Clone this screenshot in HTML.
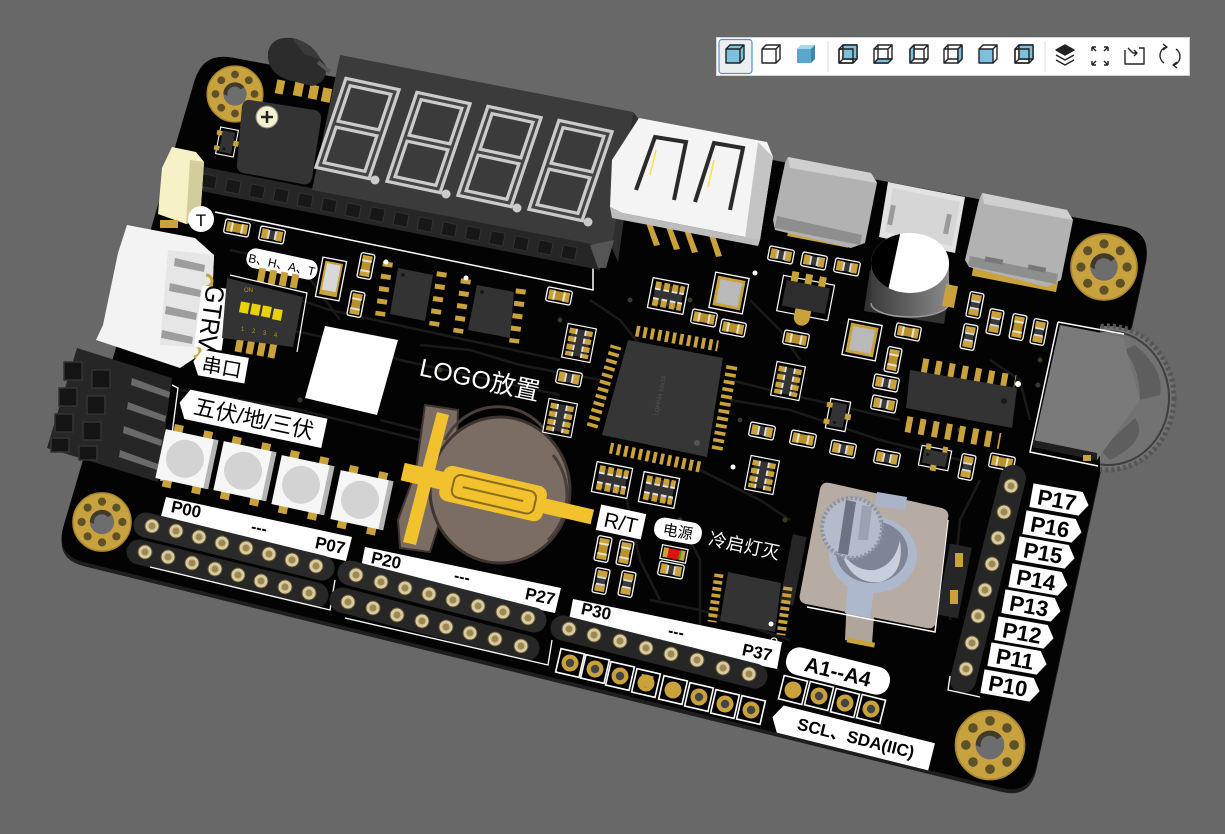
<!DOCTYPE html>
<html><head><meta charset="utf-8"><style>
html,body{margin:0;padding:0;background:#686868;}
svg{display:block;}
text{font-family:"Liberation Sans","Noto Sans CJK SC",sans-serif;}
</style></head><body>
<svg width="1225" height="834" viewBox="0 0 1225 834" xmlns="http://www.w3.org/2000/svg">
<defs>
  <g id="hole">
    <circle r="30" fill="#c8a23f"/>
    <circle r="30" fill="none" stroke="#a88630" stroke-width="1.5"/>
    <circle cx="0" cy="-21" r="4.2" fill="#5e5128"/>
    <circle cx="14.8" cy="-14.8" r="4.2" fill="#5e5128"/>
    <circle cx="21" cy="0" r="4.2" fill="#5e5128"/>
    <circle cx="14.8" cy="14.8" r="4.2" fill="#5e5128"/>
    <circle cx="0" cy="21" r="4.2" fill="#5e5128"/>
    <circle cx="-14.8" cy="14.8" r="4.2" fill="#5e5128"/>
    <circle cx="-21" cy="0" r="4.2" fill="#5e5128"/>
    <circle cx="-14.8" cy="-14.8" r="4.2" fill="#5e5128"/>
    <circle r="12.5" fill="#6d6d6d"/>
    <path d="M-12.5,0 A12.5,12.5 0 0 1 10,-7.5 L6,-5 A8,8 0 0 0 -8,2 Z" fill="#3f3a2a"/>
  </g>
  <g id="R">
    <rect x="-12.5" y="-7" width="25" height="14" rx="2" fill="#000" stroke="#fff" stroke-width="1.3"/>
    <rect x="-10.5" y="-5" width="6.5" height="10" fill="#c9a23c"/>
    <rect x="4" y="-5" width="6.5" height="10" fill="#c9a23c"/>
    <rect x="-4.5" y="-4.5" width="9" height="9" fill="#3a3a3a"/>
    <rect x="-4.5" y="-4.5" width="2" height="9" fill="#ddd"/>
    <rect x="2.5" y="-4.5" width="2" height="9" fill="#ddd"/>
  </g>
  <g id="C">
    <rect x="-12.5" y="-7" width="25" height="14" rx="2" fill="#000" stroke="#fff" stroke-width="1.3"/>
    <rect x="-10.5" y="-5" width="6.5" height="10" fill="#c9a23c"/>
    <rect x="4" y="-5" width="6.5" height="10" fill="#c9a23c"/>
    <rect x="-5" y="-4.5" width="10" height="9" fill="#b8912d"/>
    <rect x="-6" y="-4.5" width="2" height="9" fill="#e8e4d0"/>
    <rect x="4" y="-4.5" width="2" height="9" fill="#e8e4d0"/>
  </g>
  <g id="RA">
    <rect x="-19" y="-16" width="38" height="32" fill="#000" stroke="#fff" stroke-width="1.3"/>
    <rect x="-15" y="-11" width="30" height="22" fill="#333"/>
    <g fill="#c9a23c">
      <rect x="-15" y="-13" width="6" height="8"/><rect x="-6" y="-13" width="6" height="8"/><rect x="3" y="-13" width="6" height="8"/><rect x="11" y="-13" width="5" height="8"/>
      <rect x="-15" y="5" width="6" height="8"/><rect x="-6" y="5" width="6" height="8"/><rect x="3" y="5" width="6" height="8"/><rect x="11" y="5" width="5" height="8"/>
    </g>
    <g fill="#e4e4e4">
      <rect x="-15" y="-6" width="6" height="2"/><rect x="-6" y="-6" width="6" height="2"/><rect x="3" y="-6" width="6" height="2"/><rect x="11" y="-6" width="5" height="2"/>
      <rect x="-15" y="4" width="6" height="2"/><rect x="-6" y="4" width="6" height="2"/><rect x="3" y="4" width="6" height="2"/><rect x="11" y="4" width="5" height="2"/>
    </g>
  </g>
  <g id="SOT">
    <rect x="-10" y="-15" width="20" height="30" fill="#000" stroke="#fff" stroke-width="1.2"/>
    <rect x="-13" y="-11" width="6" height="5" fill="#c9a23c"/><rect x="-13" y="6" width="6" height="5" fill="#c9a23c"/><rect x="7" y="-3" width="6" height="6" fill="#c9a23c"/>
    <rect x="-7" y="-12" width="14" height="24" fill="#333"/>
    <circle cx="-2" cy="8" r="1.5" fill="#111"/>
  </g>
  <g id="XT">
    <rect x="-17" y="-18" width="34" height="36" fill="#000" stroke="#fff" stroke-width="1.3"/>
    <rect x="-14" y="-15" width="28" height="30" fill="#c9a23c"/>
    <rect x="-11" y="-12" width="22" height="24" fill="#b9b9b9"/>
  </g>
  <g id="PIN">
    <circle r="7" fill="#d9caa0" stroke="#5f5430" stroke-width="1"/>
    <circle r="3.6" fill="#9c8a55"/>
  </g>
  <g id="SQP">
    <rect x="-12" y="-12" width="24" height="24" fill="#000" stroke="#fff" stroke-width="1.6"/>
    <circle r="8.5" fill="#c9a23c"/>
    <circle r="4.2" fill="#444"/>
  </g>
  <clipPath id="wclip"><rect x="1100" y="300" width="120" height="200"/></clipPath>
  <clipPath id="capTop"><ellipse cx="910" cy="263" rx="39" ry="30"/></clipPath>
  <linearGradient id="capG" x1="0" x2="1" y1="0" y2="0">
    <stop offset="0" stop-color="#3c3c3c"/><stop offset="0.6" stop-color="#6a6a6a"/><stop offset="1" stop-color="#8a8a8a"/>
  </linearGradient>
</defs>

<rect x="0" y="0" width="1225" height="834" fill="#686868"/>

<!-- Toolbar -->
<rect x="716.5" y="37.5" width="473" height="38" fill="#fff" stroke="#d4d4d4"/>
<rect x="719" y="39.5" width="33" height="34" rx="3" fill="#eceef1" stroke="#4a93e0" stroke-width="1.2"/>
<line x1="828" y1="41" x2="828" y2="72" stroke="#ddd"/>
<line x1="1045" y1="41" x2="1045" y2="72" stroke="#ddd"/>
<g stroke="#222" stroke-width="1.4" fill="none" stroke-linejoin="round">
  <path d="M726,49 L730,45 L744,45 L744,59 L740,63 L726,63 Z" fill="#7cc0de"/>
  <path d="M726,49 L740,49 L740,63 M740,49 L744,45"/>
  <path d="M762,49 L766,45 L780,45 L780,59 L776,63 L762,63 Z" fill="#fff"/>
  <path d="M762,49 L776,49 L776,63 M776,49 L780,45"/>
  <path d="M797,49 L801,45 L815,45 L815,59 L811,63 L797,63 Z" fill="#5aa7cc" stroke="none"/>
  <path d="M797,49 L801,45 L815,45 L811,49 Z" fill="#a9d6ea" stroke="none"/>
  <path d="M811,49 L815,45 L815,59 L811,63 Z" fill="#3f86ad" stroke="none"/>
  <g>
    <path d="M839,49 L853,49 L853,63 L839,63 Z M843,45 L857,45 L857,59 L843,59 Z M839,49 L843,45 M853,49 L857,45 M853,63 L857,59 M839,63 L843,59"/>
    <path d="M843,45 L857,45 L857,59 L843,59 Z" fill="#7cc0de"/>
    <path d="M839,49 L853,49 L853,63 L839,63 Z"/>
  </g>
  <g>
    <path d="M874,49 L888,49 L888,63 L874,63 Z M878,45 L892,45 L892,59 L878,59 Z M874,49 L878,45 M888,49 L892,45 M888,63 L892,59 M874,63 L878,59"/>
    <path d="M874,63 L878,59 L892,59 L888,63 Z" fill="#7cc0de"/>
  </g>
  <g>
    <path d="M910,49 L924,49 L924,63 L910,63 Z M914,45 L928,45 L928,59 L914,59 Z M910,49 L914,45 M924,49 L928,45 M924,63 L928,59 M910,63 L914,59"/>
    <path d="M910,49 L914,45 L914,59 L910,63 Z" fill="#7cc0de"/>
  </g>
  <g>
    <path d="M944,49 L958,49 L958,63 L944,63 Z M948,45 L962,45 L962,59 L948,59 Z M944,49 L948,45 M958,49 L962,45 M958,63 L962,59 M944,63 L948,59"/>
    <path d="M958,49 L962,45 L962,59 L958,63 Z" fill="#7cc0de"/>
  </g>
  <g>
    <path d="M979,49 L993,49 L993,63 L979,63 Z" fill="#7cc0de"/>
    <path d="M979,49 L983,45 L997,45 L997,59 L993,63 M993,49 L997,45"/>
  </g>
  <g>
    <path d="M1015,49 L1029,49 L1029,63 L1015,63 Z M1019,45 L1033,45 L1033,59 L1019,59 Z M1015,49 L1019,45 M1029,49 L1033,45 M1029,63 L1033,59 M1015,63 L1019,59"/>
    <path d="M1019,45 L1033,45 L1033,59 L1019,59 Z" fill="#7cc0de"/>
    <path d="M1015,49 L1029,49 L1029,63 L1015,63 Z"/>
  </g>
  <path d="M1056,50 L1065,45 L1074,50 L1065,55 Z" fill="#222"/>
  <path d="M1056,55 L1065,60 L1074,55"/>
  <path d="M1056,60 L1065,65 L1074,60"/>
  <path d="M1092,47 L1092,51 M1092,47 L1096,47 M1092,47 L1096,51 M1108,47 L1104,47 M1108,47 L1108,51 M1108,47 L1104,51 M1092,65 L1092,61 M1092,65 L1096,65 M1092,65 L1096,61 M1108,65 L1104,65 M1108,65 L1108,61 M1108,65 L1104,61"/>
  <path d="M1125,50 L1125,64 L1144,64 L1144,48 L1139,48"/>
  <path d="M1128,48 L1133,53 L1137,53 M1134,50 L1137,53 L1134,56"/>
  <path d="M1166,47 A9,9 0 0 0 1164,63 M1174,65 A9,9 0 0 0 1176,49"/>
  <path d="M1163,44 L1167,47 L1163,50 M1177,68 L1173,65 L1177,62"/>
</g>

<!-- Board -->
<path d="M232.5,57.6 L1122.5,226.4 Q1152,232 1145.6,261.3 L1036.4,765.7 Q1030,795 1000.9,787.8 L84.1,562.2 Q55,555 63.5,526.2 L194.5,80.8 Q203,52 232.5,57.6 Z" transform="translate(0,4)" fill="#1e1e1e"/>
<path d="M232.5,57.6 L1122.5,226.4 Q1152,232 1145.6,261.3 L1036.4,765.7 Q1030,795 1000.9,787.8 L84.1,562.2 Q55,555 63.5,526.2 L194.5,80.8 Q203,52 232.5,57.6 Z" fill="#030303"/>

<!-- traces -->
<g stroke="#1a1a1a" stroke-width="2.5" fill="none">
  <polyline points="300,300 330,310 420,330 560,360"/>
  <polyline points="290,330 360,345 400,360 560,395"/>
  <polyline points="180,390 300,410 420,440"/>
  <polyline points="600,380 520,365 470,350 420,345"/>
  <polyline points="730,380 770,390 900,420"/>
  <polyline points="730,400 790,410 880,440 960,460"/>
  <polyline points="700,470 760,500 790,520"/>
  <polyline points="680,520 700,560 700,640"/>
  <polyline points="650,600 700,610 790,640"/>
  <polyline points="620,470 640,560 660,600"/>
  <polyline points="980,480 960,520 950,620"/>
  <polyline points="750,300 780,330 800,360"/>
  <polyline points="230,250 300,265 340,320"/>
  <polyline points="440,450 420,430 380,420"/>
  <polyline points="590,300 620,320 640,345"/>
  <polyline points="990,360 1020,380 1030,420"/>
</g>
<g fill="#3a3a2a">
  <circle cx="440" cy="370" r="2.5"/><circle cx="560" cy="320" r="2.5"/><circle cx="740" cy="420" r="2.5"/><circle cx="690" cy="300" r="2.5"/>
  <circle cx="960" cy="430" r="2.5"/><circle cx="1040" cy="360" r="2.5"/><circle cx="1038" cy="385" r="2.5"/><circle cx="300" cy="400" r="2.5"/>
  <circle cx="785" cy="520" r="2.5"/><circle cx="680" cy="520" r="2.5"/><circle cx="630" cy="300" r="2.5"/><circle cx="520" cy="540" r="2.5"/>
</g>

<!-- Mounting holes -->
<use href="#hole" transform="translate(235,94) scale(0.93)"/>
<use href="#hole" transform="translate(1104,267) scale(1.1)"/>
<use href="#hole" transform="translate(102,522) scale(0.97)"/>
<use href="#hole" transform="translate(990,745) scale(1.15)"/>

<polyline points="215,212 593,290 593,262" fill="none" stroke="#fff" stroke-width="1.5"/>

<!-- transistor TO-92 -->
<g>
  <rect x="294" y="82" width="9" height="14" fill="#c9a23c" transform="rotate(11 298 89)"/>
  <rect x="309" y="85" width="9" height="14" fill="#c9a23c" transform="rotate(11 313 92)"/>
  <rect x="322" y="88" width="9" height="14" fill="#c9a23c" transform="rotate(11 326 95)"/>
  <rect x="276" y="80" width="8" height="14" fill="#c9a23c" transform="rotate(11 280 87)"/>
  <path d="M268,52 Q272,36 292,38 Q310,42 318,55 L326,66 Q328,82 312,86 L288,80 Q266,72 268,52 Z" fill="#2c2c2c"/>
  <path d="M292,38 Q310,42 318,55 L326,66 Q322,58 305,55 Z" fill="#3a3a3a"/>
  <line x1="318" y1="62" x2="330" y2="72" stroke="#555" stroke-width="4"/>
</g>

<!-- 7-seg display -->
<polygon points="194,165 606,246 600,270 196,190" fill="#262626"/>
<g fill="#171717" stroke="#333" stroke-width="1">
  <rect x="202" y="175" width="14" height="13" transform="rotate(11 209 182)"/>
  <rect x="226" y="180" width="14" height="13" transform="rotate(11 233 187)"/>
  <rect x="250" y="185" width="14" height="13" transform="rotate(11 257 192)"/>
  <rect x="274" y="189" width="14" height="13" transform="rotate(11 281 196)"/>
  <rect x="298" y="194" width="14" height="13" transform="rotate(11 305 201)"/>
  <rect x="322" y="199" width="14" height="13" transform="rotate(11 329 206)"/>
  <rect x="346" y="204" width="14" height="13" transform="rotate(11 353 211)"/>
  <rect x="370" y="208" width="14" height="13" transform="rotate(11 377 215)"/>
  <rect x="394" y="213" width="14" height="13" transform="rotate(11 401 220)"/>
  <rect x="418" y="218" width="14" height="13" transform="rotate(11 425 225)"/>
  <rect x="442" y="223" width="14" height="13" transform="rotate(11 449 230)"/>
  <rect x="466" y="227" width="14" height="13" transform="rotate(11 473 234)"/>
  <rect x="490" y="232" width="14" height="13" transform="rotate(11 497 239)"/>
  <rect x="514" y="237" width="14" height="13" transform="rotate(11 521 244)"/>
  <rect x="538" y="241" width="14" height="13" transform="rotate(11 545 248)"/>
  <rect x="562" y="246" width="14" height="13" transform="rotate(11 569 253)"/>
</g>
<polygon points="340,55 633,112 612,248 312,190" fill="#3b3b3b"/>
<polygon points="633,112 638,118 618,262 612,248" fill="#2e2e2e"/>
<polygon points="590,245 614,240 606,268 598,268" fill="#555"/>
<g fill="none" stroke-linejoin="miter">
  <g stroke="#cbcbcb" stroke-width="9.5">
    <path d="M348,82 L395,92 L367,175 L320,165 Z M334,123.5 L381,133.5"/>
    <path d="M419,96 L466,106 L438,189 L391,179 Z M405,137.5 L452,147.5"/>
    <path d="M490,110 L537,120 L509,203 L462,193 Z M476,151.5 L523,161.5"/>
    <path d="M561,124 L608,134 L580,217 L533,207 Z M547,165.5 L594,175.5"/>
  </g>
  <g stroke="#454545" stroke-width="3">
    <path d="M348,82 L395,92 L367,175 L320,165 Z M334,123.5 L381,133.5"/>
    <path d="M419,96 L466,106 L438,189 L391,179 Z M405,137.5 L452,147.5"/>
    <path d="M490,110 L537,120 L509,203 L462,193 Z M476,151.5 L523,161.5"/>
    <path d="M561,124 L608,134 L580,217 L533,207 Z M547,165.5 L594,175.5"/>
  </g>
</g>
<g fill="#cbcbcb">
  <circle cx="375" cy="180" r="4.5"/><circle cx="446" cy="194" r="4.5"/><circle cx="517" cy="208" r="4.5"/><circle cx="588" cy="222" r="4.5"/>
</g>

<!-- buzzer -->
<path d="M250,100 L315,110 Q322,112 321,120 L312,178 Q310,186 302,184 L243,173 Q236,171 237,164 L242,106 Q244,99 250,100 Z" fill="#343434"/>
<circle cx="267" cy="117" r="11" fill="#f3efcf" stroke="#888" stroke-width="1"/>
<path d="M261,117 L273,117 M267,111 L267,123" stroke="#222" stroke-width="2.5"/>

<use href="#SOT" transform="translate(227,142) rotate(11) scale(0.9)"/>

<!-- cream connector -->
<polygon points="172,147 196,152 204,162 200,220 186,224 158,214 162,168" fill="#f6f2c6"/>
<polygon points="190,160 204,162 200,220 186,224" fill="#d2cd9a"/>
<rect x="160" y="220" width="18" height="8" fill="#c9a23c"/>
<circle cx="201" cy="219" r="13" fill="#fff"/>
<text x="201" y="226" font-size="17" text-anchor="middle" fill="#000">T</text>

<use href="#C" transform="translate(237,228) rotate(11)"/>
<use href="#R" transform="translate(272,235) rotate(11)"/>

<!-- white 4-pin connector -->
<polygon points="127,225 195,238 214,255 210,348 180,368 96,340 103,325 118,253" fill="#f3f3f3"/>
<polygon points="168,250 214,255 210,348 160,345" fill="#e6e6e6"/>
<g fill="#9d9d9d">
  <polygon points="175,258 205,265 204,272 174,266"/>
  <polygon points="170,283 201,290 200,297 169,291"/>
  <polygon points="166,306 197,313 196,320 165,314"/>
  <polygon points="162,330 193,337 192,344 161,338"/>
</g>
<g fill="none" stroke="#c9a23c" stroke-width="3">
  <path d="M206,275 a6,6 0 0 1 0,12"/><path d="M202,299 a6,6 0 0 1 0,12"/><path d="M198,322 a6,6 0 0 1 0,12"/><path d="M194,345 a6,6 0 0 1 0,12"/>
</g>

<!-- black 2x4 header left -->
<polygon points="77,348 172,378 158,482 47,448" fill="#262626"/>
<g fill="#141414" stroke="#333" stroke-width="1.5">
  <rect x="64" y="362" width="18" height="18"/><rect x="92" y="370" width="18" height="18"/>
  <rect x="59" y="388" width="18" height="18"/><rect x="87" y="396" width="18" height="18"/>
  <rect x="55" y="414" width="18" height="18"/><rect x="83" y="422" width="18" height="18"/>
  <rect x="51" y="438" width="18" height="14"/><rect x="79" y="446" width="18" height="14"/>
</g>
<g fill="#6a6a6a">
  <polygon points="132,378 170,392 169,398 131,385"/>
  <polygon points="128,402 166,416 165,422 127,409"/>
  <polygon points="124,426 162,440 161,446 123,433"/>
  <polygon points="120,450 158,464 157,470 119,457"/>
</g>
<polyline points="172,385 178,388 166,480 160,480" fill="none" stroke="#fff" stroke-width="1.3"/>

<!-- labels left -->
<g transform="translate(212,318) rotate(98)">
  <rect x="-31" y="-14" width="62" height="28" fill="#fff"/>
  <text x="0" y="9" font-size="24" text-anchor="middle" fill="#000" transform="scale(1,1.1)">GTRV</text>
</g>
<g transform="translate(220,366) rotate(10)">
  <path d="M-20,-13 L27,-13 L27,13 L-20,13 L-27,0 Z" fill="#fff"/>
  <text x="2" y="8" font-size="20" text-anchor="middle" fill="#000">串口</text>
</g>
<g transform="translate(282,264) rotate(12)">
  <rect x="-36" y="-10" width="72" height="20" rx="9" fill="#fff"/>
  <text x="0" y="5" font-size="12" text-anchor="middle" fill="#000">B、H、A、T</text>
</g>

<!-- DIP switch -->
<g fill="#c9a23c">
  <rect x="258" y="268" width="7" height="14" transform="rotate(11 261 275)"/>
  <rect x="269" y="270" width="7" height="14" transform="rotate(11 272 277)"/>
  <rect x="280" y="272" width="7" height="14" transform="rotate(11 283 279)"/>
  <rect x="291" y="274" width="7" height="14" transform="rotate(11 294 281)"/>
  <rect x="236" y="336" width="7" height="16" transform="rotate(11 239 344)"/>
  <rect x="247" y="338" width="7" height="16" transform="rotate(11 250 346)"/>
  <rect x="258" y="340" width="7" height="16" transform="rotate(11 261 348)"/>
  <rect x="269" y="342" width="7" height="16" transform="rotate(11 272 350)"/>
</g>
<polygon points="227,278 303,297 293,347 222,338" fill="#333"/>
<polyline points="230,275 307,293 297,352" fill="none" stroke="#fff" stroke-width="1.2"/>
<g fill="#e8d20a">
  <rect x="240" y="302" width="9" height="11" transform="rotate(11 244 307)"/>
  <rect x="251" y="304" width="9" height="11" transform="rotate(11 255 309)"/>
  <rect x="262" y="306" width="9" height="11" transform="rotate(11 266 311)"/>
  <rect x="273" y="309" width="9" height="11" transform="rotate(11 277 314)"/>
</g>
<g fill="#b39a10" font-size="6">
  <text x="241" y="331">1</text><text x="252" y="333">2</text><text x="263" y="335">3</text><text x="274" y="337">4</text>
  <text x="244" y="292">ON</text>
</g>

<g transform="translate(331,279) rotate(11)">
  <rect x="-12" y="-20" width="24" height="40" fill="#000" stroke="#fff" stroke-width="1.3"/>
  <rect x="-9" y="-17" width="18" height="34" fill="#c9a23c"/>
  <rect x="-7" y="-15" width="14" height="27" fill="#d8d8d8"/>
</g>
<use href="#C" transform="translate(366,266) rotate(101)"/>
<use href="#C" transform="translate(356,304) rotate(101)"/>

<!-- SOIC-8 chips -->
<g stroke="#c9a23c" stroke-width="10" stroke-dasharray="5 7.5" fill="none">
  <line x1="388" y1="262" x2="380" y2="316"/>
  <line x1="442" y1="272" x2="434" y2="326"/>
  <line x1="466" y1="279" x2="458" y2="333"/>
  <line x1="521" y1="289" x2="514" y2="343"/>
</g>
<polygon points="398,268 433,275 425,321 390,314" fill="#333"/>
<polygon points="477,285 514,292 510,338 468,330" fill="#333"/>
<circle cx="386" cy="262" r="2.5" fill="#fff"/><circle cx="466" cy="278" r="2.5" fill="#fff"/>
<circle cx="403" cy="275" r="2" fill="#1a1a1a"/><circle cx="482" cy="292" r="2" fill="#1a1a1a"/>

<use href="#C" transform="translate(559,296) rotate(11)"/>

<!-- LOGO -->
<polygon points="325,326 398,340 377,415 305,398" fill="#fff"/>
<text transform="translate(478,388) rotate(12)" font-size="25" text-anchor="middle" fill="#fff">LOGO放置</text>

<g transform="translate(252,418) rotate(12)">
  <path d="M-66,-15 L74,-15 L74,15 L-66,15 L-74,0 Z" fill="#fff"/>
  <text x="2" y="8" font-size="22" text-anchor="middle" fill="#000">五伏/地/三伏</text>
</g>

<!-- buttons -->
<g>
  <g transform="translate(186,459) rotate(12)">
    <rect x="-18" y="-32" width="9" height="9" fill="#c9a23c"/><rect x="12" y="-32" width="9" height="9" fill="#c9a23c"/>
    <rect x="-18" y="23" width="9" height="9" fill="#c9a23c"/><rect x="12" y="23" width="9" height="9" fill="#c9a23c"/>
    <rect x="-26" y="-25" width="53" height="50" fill="#f6f6f6"/>
    <rect x="23" y="-25" width="5" height="50" fill="#b5b5b5"/>
    <circle cx="-1" cy="0" r="19" fill="#d3d3d3"/>
  </g>
  <g transform="translate(244,471) rotate(12)">
    <rect x="-18" y="-32" width="9" height="9" fill="#c9a23c"/><rect x="12" y="-32" width="9" height="9" fill="#c9a23c"/>
    <rect x="-18" y="23" width="9" height="9" fill="#c9a23c"/><rect x="12" y="23" width="9" height="9" fill="#c9a23c"/>
    <rect x="-26" y="-25" width="53" height="50" fill="#f6f6f6"/>
    <rect x="23" y="-25" width="5" height="50" fill="#b5b5b5"/>
    <circle cx="-1" cy="0" r="19" fill="#d3d3d3"/>
  </g>
  <g transform="translate(302,485) rotate(12)">
    <rect x="-18" y="-32" width="9" height="9" fill="#c9a23c"/><rect x="12" y="-32" width="9" height="9" fill="#c9a23c"/>
    <rect x="-18" y="23" width="9" height="9" fill="#c9a23c"/><rect x="12" y="23" width="9" height="9" fill="#c9a23c"/>
    <rect x="-26" y="-25" width="53" height="50" fill="#f6f6f6"/>
    <rect x="23" y="-25" width="5" height="50" fill="#b5b5b5"/>
    <circle cx="-1" cy="0" r="19" fill="#d3d3d3"/>
  </g>
  <g transform="translate(361,500) rotate(12)">
    <rect x="-18" y="-32" width="9" height="9" fill="#c9a23c"/><rect x="12" y="-32" width="9" height="9" fill="#c9a23c"/>
    <rect x="-18" y="23" width="9" height="9" fill="#c9a23c"/><rect x="12" y="23" width="9" height="9" fill="#c9a23c"/>
    <rect x="-26" y="-25" width="53" height="50" fill="#f6f6f6"/>
    <rect x="23" y="-25" width="5" height="50" fill="#b5b5b5"/>
    <circle cx="-1" cy="0" r="19" fill="#d3d3d3"/>
  </g>
</g>

<!-- coin cell holder -->
<polygon points="425,405 458,410 456,468 430,552 400,548 398,520 416,470" fill="#7b6c64" stroke="#3f3530" stroke-width="2"/>
<ellipse cx="500" cy="490" rx="70" ry="73" fill="#7b6c64" stroke="#3d3430" stroke-width="3"/>
<path d="M445,440 A60,62 0 0 1 545,430" fill="none" stroke="#4a3f3a" stroke-width="3"/>
<path d="M553,455 A60,62 0 0 1 548,540" fill="none" stroke="#4a3f3a" stroke-width="3"/>
<polygon points="437,412 449,415 416,545 403,542" fill="#f2c12e"/>
<g transform="rotate(13 495 494)">
  <rect x="400" y="484" width="45" height="18" fill="#f2c12e"/>
  <rect x="538" y="487" width="57" height="15" fill="#f2c12e"/>
  <rect x="440" y="476" width="106" height="36" rx="9" fill="#f2c12e"/>
  <rect x="452" y="483" width="84" height="23" rx="7" fill="none" stroke="#8a6a1e" stroke-width="2"/>
  <line x1="462" y1="494.5" x2="524" y2="494.5" stroke="#8a6a1e" stroke-width="2"/>
</g>

<!-- MCU -->
<g stroke="#c9a23c" stroke-width="11" stroke-dasharray="3.6 3.8" fill="none">
  <line x1="636" y1="331" x2="718" y2="346"/>
  <line x1="732" y1="366" x2="717" y2="450"/>
  <line x1="700" y1="467" x2="610" y2="448"/>
  <line x1="592" y1="427" x2="616" y2="346"/>
</g>
<polygon points="628,340 723,358 707,457 602,435" fill="#363636"/>
<circle cx="697" cy="443" r="3" fill="#555"/>
<circle cx="733" cy="467" r="2.5" fill="#fff"/>
<text transform="translate(662,396) rotate(-79)" font-size="6" fill="#555" text-anchor="middle">LQFP44 10x10</text>

<use href="#RA" transform="translate(579,343) rotate(101) scale(0.9)"/>
<use href="#R" transform="translate(569,378) rotate(11)"/>
<use href="#RA" transform="translate(560,418) rotate(101) scale(0.9)"/>
<use href="#RA" transform="translate(612,480) rotate(11) scale(0.95)"/>
<use href="#RA" transform="translate(659,490) rotate(11) scale(0.95)"/>
<use href="#RA" transform="translate(668,296) rotate(11) scale(0.95)"/>
<use href="#XT" transform="translate(729,293) rotate(11)"/>
<circle cx="755" cy="273" r="2.5" fill="#fff"/>
<use href="#C" transform="translate(704,318) rotate(11)"/>
<use href="#C" transform="translate(733,328) rotate(11)"/>
<use href="#R" transform="translate(781,255) rotate(11)"/>
<use href="#R" transform="translate(814,261) rotate(11)"/>
<use href="#R" transform="translate(847,267) rotate(11)"/>
<g transform="translate(806,296) rotate(11)">
  <rect x="-26" y="-16" width="52" height="36" fill="#000" stroke="#fff" stroke-width="1.2"/>
  <rect x="-18" y="-22" width="7" height="10" fill="#c9a23c"/><rect x="-4" y="-22" width="7" height="10" fill="#c9a23c"/><rect x="10" y="-22" width="7" height="10" fill="#c9a23c"/>
  <rect x="-22" y="-12" width="44" height="26" fill="#2d2d2d"/>
  <path d="M-8,14 L8,14 L8,22 A8,8 0 0 1 -8,22 Z" fill="#c9a23c"/>
</g>
<use href="#C" transform="translate(796,339) rotate(11)"/>
<use href="#RA" transform="translate(788,381) rotate(101) scale(0.9)"/>
<use href="#XT" transform="translate(862,340) rotate(11)"/>
<use href="#C" transform="translate(893,360) rotate(101)"/>
<use href="#R" transform="translate(886,383) rotate(11)"/>
<use href="#R" transform="translate(884,404) rotate(11)"/>
<use href="#C" transform="translate(908,332) rotate(11)"/>
<use href="#SOT" transform="translate(838,415) rotate(11)"/>
<use href="#R" transform="translate(762,431) rotate(11)"/>
<use href="#C" transform="translate(803,439) rotate(11)"/>
<use href="#R" transform="translate(843,449) rotate(11)"/>
<use href="#R" transform="translate(887,458) rotate(11)"/>
<use href="#SOT" transform="translate(935,458) rotate(101)"/>
<use href="#R" transform="translate(967,467) rotate(101)"/>
<use href="#C" transform="translate(1002,462) rotate(11)"/>
<use href="#RA" transform="translate(762,475) rotate(101) scale(0.9)"/>
<use href="#R" transform="translate(975,305) rotate(101)"/>
<use href="#R" transform="translate(969,337) rotate(101)"/>
<use href="#R" transform="translate(995,322) rotate(101)"/>
<use href="#C" transform="translate(1018,327) rotate(101)"/>
<use href="#R" transform="translate(1039,332) rotate(101)"/>

<!-- SOIC-14 -->
<g stroke="#c9a23c" stroke-width="16" stroke-dasharray="6 7.4" fill="none">
  <line x1="922" y1="366" x2="1015" y2="383"/>
  <line x1="906" y1="424" x2="1000" y2="441"/>
</g>
<polygon points="910,370 1017,388 1012,428 906,408" fill="#333"/>
<circle cx="1018" cy="384" r="3" fill="#fff"/>
<circle cx="1004" cy="401" r="3" fill="#1a1a1a"/>

<!-- USB-A -->
<g fill="#c9a23c">
  <polygon points="645,220 651,221 660,245 654,246"/>
  <polygon points="665,224 671,225 680,249 674,250"/>
  <polygon points="683,227 689,228 698,252 692,253"/>
  <polygon points="708,232 714,233 722,256 716,257"/>
</g>
<polygon points="639,118 767,142 773,157 760,240 622,213 610,207 612,160" fill="#f4f4f4"/>
<polygon points="758,142 773,157 760,240 745,238" fill="#c4c4c4"/>
<polygon points="610,207 622,213 760,240 758,246 612,218" fill="#bdbdbd"/>
<g stroke="#2a2a2a" stroke-width="4" fill="none">
  <polyline points="636,190 655,137 686,142 674,200"/>
  <polyline points="695,202 714,143 743,148 730,210"/>
</g>
<g stroke="#f1e14a" stroke-width="1.5" fill="none">
  <line x1="650" y1="175" x2="656" y2="150"/>
  <line x1="708" y1="187" x2="714" y2="160"/>
</g>

<!-- Type-C 1 -->
<rect x="788" y="228" width="62" height="14" fill="#c9a23c" transform="rotate(11 819 235)"/>
<polygon points="785,163 788,157 871,173 877,183 865,243 851,248 775,230 773,220" fill="#b2b2b2"/>
<polygon points="788,157 871,173 877,183 790,168" fill="#cfcfcf"/>
<polygon points="777,216 862,235 860,245 775,228" fill="#8e8e8e"/>

<!-- Micro USB -->
<polygon points="888,182 965,197 955,253 879,237" fill="#e2e2e2"/>
<polygon points="893,188 960,202 952,246 885,232" fill="#d6d6d6"/>
<rect x="889" y="205" width="5" height="20" fill="#9a9a9a" transform="rotate(11 891 215)"/>
<rect x="945" y="214" width="5" height="20" fill="#9a9a9a" transform="rotate(11 947 224)"/>

<!-- Type-C 2 -->
<rect x="972" y="272" width="86" height="12" fill="#c9a23c" transform="rotate(11 1015 278)"/>
<polygon points="979,200 982,193 1067,210 1073,220 1061,280 1047,287 969,267 965,260" fill="#b2b2b2"/>
<polygon points="982,193 1067,210 1073,220 984,204" fill="#cfcfcf"/>
<polygon points="970,256 1058,274 1056,284 968,266" fill="#8e8e8e"/>
<g fill="#777"><rect x="985" y="258" width="18" height="5" transform="rotate(11 994 260)"/><rect x="1028" y="266" width="18" height="5" transform="rotate(11 1037 268)"/></g>

<!-- electrolytic cap -->
<polygon points="870,270 950,283 944,324 864,311" fill="#333"/>
<path d="M871,263 L871,303 A39,14 0 0 0 949,303 L949,263 Z" fill="url(#capG)"/>
<path d="M871,303 A39,14 0 0 0 949,303" fill="none" stroke="#9a9a9a" stroke-width="1.5"/>
<ellipse cx="910" cy="263" rx="39" ry="30" fill="#fff"/>
<g clip-path="url(#capTop)">
  <polygon points="860,225 902,225 886,300 860,300" fill="#000"/>
</g>
<rect x="944" y="285" width="12" height="22" fill="#c9a23c" transform="rotate(11 950 296)"/>

<!-- right thumbwheel -->
<g clip-path="url(#wclip)">
  <ellipse cx="1108" cy="398" rx="66" ry="72" fill="#727272" stroke="#555" stroke-width="5" stroke-dasharray="3 3"/>
  <ellipse cx="1108" cy="398" rx="61" ry="67" fill="none" stroke="#3e3e3e" stroke-width="2"/>
  <path d="M1135,345 Q1165,370 1160,395 L1140,400 Q1140,370 1125,350 Z" fill="#5e5e5e"/>
  <path d="M1135,418 Q1150,440 1110,460 L1100,450 Z" fill="#5e5e5e"/>
</g>
<polyline points="1058,322 1124,334" stroke="#fff" stroke-width="1.5" fill="none"/>
<polyline points="1058,322 1030,452 1098,466" stroke="#fff" stroke-width="1.5" fill="none"/>
<polygon points="1060,325 1123,337 1140,400 1097,460 1033,447" fill="#7a7a7a"/>
<polygon points="1033,440 1097,453 1097,460 1033,447" fill="#1f1f1f"/>
<rect x="1083" y="455" width="8" height="6" fill="#c9a23c"/>

<!-- big encoder -->
<rect x="786" y="535" width="14" height="70" fill="#262626" transform="rotate(11 793 570)"/>
<rect x="943" y="545" width="22" height="72" fill="#262626" transform="rotate(11 954 581)"/>
<rect x="955" y="553" width="8" height="14" fill="#c9a23c"/>
<rect x="950" y="590" width="8" height="14" fill="#c9a23c"/>
<polygon points="847,597 875,602 872,644 845,640" fill="#b0a59c"/>
<rect x="847" y="640" width="28" height="5" fill="#c9a23c" transform="rotate(11 861 642)"/>
<polyline points="807,607 935,632 948,520" fill="none" stroke="#fff" stroke-width="1.5"/>
<path d="M830,483 L942,508 Q950,511 948,518 L936,622 Q934,630 926,628 L806,604 Q798,602 800,594 L820,489 Q822,481 830,483 Z" fill="#b7aca3"/>
<polygon points="877,492 907,497 905,510 875,506" fill="#aab4c9"/>
<ellipse cx="873" cy="555" rx="44" ry="38" fill="#aeb8cc"/>
<polygon points="848,585 874,590 870,618 845,613" fill="#aeb8cc"/>
<ellipse cx="872" cy="552" rx="36" ry="31" fill="#7e8596"/>
<path d="M840,548 Q850,585 880,582 Q905,575 900,540 Q895,565 875,570 Q852,572 840,548 Z" fill="#c8cfdc"/>
<circle cx="852" cy="528" r="30" fill="#b4bccb" stroke="#8d95a5" stroke-width="4" stroke-dasharray="2.5 2"/>
<polygon points="846,500 856,502 848,555 838,553" fill="#6c7383"/>
<polygon points="862,505 872,507 868,540 858,540" fill="#9aa2b3"/>

<!-- small QFN chip -->
<g stroke="#c9a23c" stroke-width="9" stroke-dasharray="3.5 3.2" fill="none">
  <line x1="719" y1="574" x2="712" y2="622"/>
  <line x1="788" y1="587" x2="781" y2="635"/>
</g>
<polygon points="728,572 781,583 775,632 720,621" fill="#333"/>
<circle cx="771" cy="624" r="2.5" fill="#fff"/>
<circle cx="774" cy="641" r="3" fill="none" stroke="#fff" stroke-width="1.3"/>

<!-- R/T, 电源 -->
<g transform="translate(621,522) rotate(12)">
  <rect x="-23" y="-13" width="46" height="26" fill="#fff"/>
  <text x="0" y="8" font-size="21" text-anchor="middle" fill="#000">R/T</text>
</g>
<g transform="translate(603,549) rotate(101)"><use href="#C"/></g>
<g transform="translate(625,553) rotate(101)"><use href="#C"/></g>
<use href="#R" transform="translate(601,581) rotate(101)"/>
<use href="#R" transform="translate(627,584) rotate(101)"/>
<g transform="translate(678,531) rotate(10)">
  <rect x="-24" y="-11" width="48" height="22" rx="10" fill="#fff"/>
  <text x="0" y="6" font-size="15" text-anchor="middle" fill="#000">电源</text>
</g>
<g transform="translate(674,554) rotate(11)">
  <rect x="-13" y="-7" width="26" height="14" fill="#000" stroke="#fff" stroke-width="1.2"/>
  <rect x="-11" y="-5" width="5" height="10" fill="#c9a23c"/><rect x="6" y="-5" width="5" height="10" fill="#c9a23c"/>
  <rect x="-6" y="-5" width="12" height="10" fill="#e31010"/>
  <rect x="5" y="-4" width="2" height="8" fill="#2ca02c"/>
</g>
<use href="#R" transform="translate(671,570) rotate(11)"/>
<text transform="translate(743,552) rotate(12)" font-size="18" text-anchor="middle" fill="#fff">冷启灯灭</text>

<!-- P00-P07 -->
<polygon points="166,497 352,537 346,561 160,520" fill="#fff"/>
<g font-weight="bold" fill="#000" text-anchor="middle">
<text transform="translate(185,515) rotate(12)" font-size="17">P00</text>
<text transform="translate(258,533) rotate(12)" font-size="16">---</text>
<text transform="translate(329,551) rotate(12)" font-size="17">P07</text>
</g>
<line x1="146" y1="525" x2="322" y2="568" stroke="#2a2a2a" stroke-width="25" stroke-linecap="round"/>
<line x1="139" y1="552" x2="316" y2="595" stroke="#262626" stroke-width="25" stroke-linecap="round"/>
<polyline points="150,567 330,610 335,580" fill="none" stroke="#fff" stroke-width="1.3"/>
<g>
  <use href="#PIN" x="152" y="526"/><use href="#PIN" x="176" y="531"/><use href="#PIN" x="199" y="537"/><use href="#PIN" x="222" y="543"/>
  <use href="#PIN" x="246" y="548"/><use href="#PIN" x="269" y="554"/><use href="#PIN" x="292" y="560"/><use href="#PIN" x="316" y="566"/>
  <use href="#PIN" x="145" y="552"/><use href="#PIN" x="168" y="557"/><use href="#PIN" x="192" y="563"/><use href="#PIN" x="215" y="569"/>
  <use href="#PIN" x="238" y="575"/><use href="#PIN" x="261" y="581"/><use href="#PIN" x="285" y="587"/><use href="#PIN" x="309" y="593"/>
</g>

<!-- P20-P27 -->
<polygon points="365,547 561,588 555,613 360,572" fill="#fff"/>
<g font-weight="bold" fill="#000" text-anchor="middle">
<text transform="translate(385,566) rotate(12)" font-size="17">P20</text>
<text transform="translate(461,582) rotate(12)" font-size="16">---</text>
<text transform="translate(539,602) rotate(12)" font-size="17">P27</text>
</g>
<line x1="350" y1="573" x2="534" y2="620" stroke="#2a2a2a" stroke-width="25" stroke-linecap="round"/>
<line x1="342" y1="600" x2="527" y2="648" stroke="#262626" stroke-width="25" stroke-linecap="round"/>
<polyline points="345,618 548,665 552,640" fill="none" stroke="#fff" stroke-width="1.3"/>
<g>
  <use href="#PIN" x="356" y="575"/><use href="#PIN" x="381" y="582"/><use href="#PIN" x="405" y="588"/><use href="#PIN" x="429" y="594"/>
  <use href="#PIN" x="453" y="600"/><use href="#PIN" x="478" y="606"/><use href="#PIN" x="503" y="612"/><use href="#PIN" x="528" y="618"/>
  <use href="#PIN" x="348" y="602"/><use href="#PIN" x="373" y="608"/><use href="#PIN" x="397" y="615"/><use href="#PIN" x="422" y="621"/>
  <use href="#PIN" x="446" y="627"/><use href="#PIN" x="470" y="633"/><use href="#PIN" x="495" y="639"/><use href="#PIN" x="521" y="646"/>
</g>

<!-- P30-P37 -->
<polygon points="573,599 782,642 777,669 568,625" fill="#fff"/>
<g font-weight="bold" fill="#000" text-anchor="middle">
<text transform="translate(595,617) rotate(12)" font-size="17">P30</text>
<text transform="translate(675,637) rotate(12)" font-size="16">---</text>
<text transform="translate(756,658) rotate(12)" font-size="17">P37</text>
</g>
<line x1="563" y1="628" x2="755" y2="676" stroke="#262626" stroke-width="25" stroke-linecap="round"/>
<g>
  <use href="#PIN" x="569" y="629"/><use href="#PIN" x="594" y="635"/><use href="#PIN" x="620" y="641"/><use href="#PIN" x="646" y="648"/>
  <use href="#PIN" x="671" y="654"/><use href="#PIN" x="697" y="660"/><use href="#PIN" x="723" y="668"/><use href="#PIN" x="749" y="674"/>
</g>
<g>
  <use href="#SQP" transform="translate(570,663) rotate(13)"/><use href="#SQP" transform="translate(595,669) rotate(13)"/>
  <use href="#SQP" transform="translate(620,676) rotate(13)"/><use href="#SQP" transform="translate(646,683) rotate(13)"/>
  <use href="#SQP" transform="translate(673,690) rotate(13)"/><use href="#SQP" transform="translate(699,697) rotate(13)"/>
  <use href="#SQP" transform="translate(725,704) rotate(13)"/><use href="#SQP" transform="translate(751,710) rotate(13)"/>
</g>
<rect x="640" y="675" width="12" height="12" fill="#c9a23c" transform="rotate(13 646 683)"/>
<rect x="667" y="684" width="12" height="12" fill="#c9a23c" transform="rotate(13 673 690)"/>

<!-- A1--A4 -->
<g transform="translate(838,671) rotate(14)">
  <rect x="-53" y="-14" width="106" height="28" rx="13" fill="#fff"/>
  <text x="0" y="8" font-size="21" font-weight="bold" text-anchor="middle" fill="#000">A1--A4</text>
</g>
<g>
  <use href="#SQP" transform="translate(793,690) rotate(14)"/><use href="#SQP" transform="translate(819,696) rotate(14)"/>
  <use href="#SQP" transform="translate(845,703) rotate(14)"/><use href="#SQP" transform="translate(871,709) rotate(14)"/>
</g>
<rect x="787" y="684" width="12" height="12" fill="#c9a23c" transform="rotate(14 793 690)"/>
<g transform="translate(852,737) rotate(14)">
  <path d="M-74,-14 L82,-14 L82,14 L-74,14 L-82,0 Z" fill="#fff"/>
  <text x="4" y="6" font-size="17" font-weight="bold" text-anchor="middle" fill="#000">SCL、SDA(IIC)</text>
</g>

<!-- P10-P17 -->
<line x1="1013" y1="478" x2="963" y2="680" stroke="#262626" stroke-width="26" stroke-linecap="round"/>
<polyline points="950,676 948,690 980,697" fill="none" stroke="#fff" stroke-width="1.3"/>
<g>
  <use href="#PIN" x="1011" y="486"/><use href="#PIN" x="1004" y="512"/><use href="#PIN" x="998" y="538"/><use href="#PIN" x="992" y="564"/>
  <use href="#PIN" x="985" y="590"/><use href="#PIN" x="978" y="616"/><use href="#PIN" x="972" y="643"/><use href="#PIN" x="966" y="669"/>
</g>
<g font-size="22" font-weight="bold" fill="#000" text-anchor="middle">
  <g transform="translate(1059,500) rotate(10)"><path d="M-28,-12 L22,-12 L30,0 L22,12 L-28,12 Z" fill="#fff"/><text x="-2" y="8">P17</text></g>
  <g transform="translate(1052,527) rotate(10)"><path d="M-28,-12 L22,-12 L30,0 L22,12 L-28,12 Z" fill="#fff"/><text x="-2" y="8">P16</text></g>
  <g transform="translate(1045,553) rotate(10)"><path d="M-28,-12 L22,-12 L30,0 L22,12 L-28,12 Z" fill="#fff"/><text x="-2" y="8">P15</text></g>
  <g transform="translate(1038,580) rotate(10)"><path d="M-28,-12 L22,-12 L30,0 L22,12 L-28,12 Z" fill="#fff"/><text x="-2" y="8">P14</text></g>
  <g transform="translate(1031,606) rotate(10)"><path d="M-28,-12 L22,-12 L30,0 L22,12 L-28,12 Z" fill="#fff"/><text x="-2" y="8">P13</text></g>
  <g transform="translate(1024,633) rotate(10)"><path d="M-28,-12 L22,-12 L30,0 L22,12 L-28,12 Z" fill="#fff"/><text x="-2" y="8">P12</text></g>
  <g transform="translate(1017,659) rotate(10)"><path d="M-28,-12 L22,-12 L30,0 L22,12 L-28,12 Z" fill="#fff"/><text x="-2" y="8">P11</text></g>
  <g transform="translate(1010,686) rotate(10)"><path d="M-28,-12 L22,-12 L30,0 L22,12 L-28,12 Z" fill="#fff"/><text x="-2" y="8">P10</text></g>
</g>

</svg>
</body></html>
